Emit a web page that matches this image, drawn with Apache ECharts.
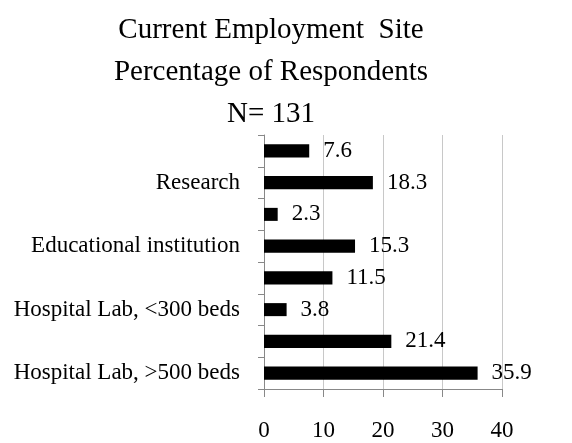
<!DOCTYPE html>
<html>
<head>
<meta charset="utf-8">
<script src="https://cdn.jsdelivr.net/npm/echarts@6/dist/echarts.min.js"></script>
<style>
  html, body { margin: 0; padding: 0; background: #fff; }
  #chart { width: 572px; height: 443px; }
</style>
</head>
<body>
<div id="chart"></div>
<script>
  // bottom to top, as drawn
  var categories = [
    'Hospital Lab, >500 beds',
    'Hospital Lab, 300-500 beds',
    'Hospital Lab, <300 beds',
    'Reference Lab',
    'Educational institution',
    'Industry',
    'Research',
    'Other'
  ];
  var percents = [35.9, 21.4, 3.8, 11.5, 15.3, 2.3, 18.3, 7.6];
  var xTicks = [0, 10, 20, 30, 40];

  var serif = '"Liberation Serif", "DejaVu Serif", serif';
  var chart = echarts.init(document.getElementById('chart'));
  chart.setOption({
    backgroundColor: '#fff',
    animation: false,
    title: {
      text: 'Current Employment  Site\nPercentage of Respondents\nN= 131',
      left: 266,
      top: 4,
      textAlign: 'center',
      textStyle: {
        fontFamily: serif,
        fontSize: 29,
        fontWeight: 'normal',
        color: '#000',
        lineHeight: 42
      }
    },
    grid: { left: 264, right: 70, top: 135, bottom: 54 },
    xAxis: {
      type: 'value',
      min: xTicks[0],
      max: xTicks[xTicks.length - 1],
      interval: 10,
      axisLine: { show: true, lineStyle: { color: '#888', width: 1 } },
      axisTick: { show: true, length: 8, lineStyle: { color: '#888' } },
      splitLine: { show: true, lineStyle: { color: '#c8c8c8', width: 1 } },
      axisLabel: {
        margin: 30,
        fontFamily: serif,
        fontSize: 23,
        color: '#000'
      }
    },
    yAxis: {
      type: 'category',
      data: categories,
      axisLine: { show: true, lineStyle: { color: '#888', width: 1 } },
      axisTick: { show: true, interval: 0, length: 6, lineStyle: { color: '#888' } },
      axisLabel: {
        interval: 1,
        margin: 24,
        fontFamily: serif,
        fontSize: 23,
        color: '#000'
      }
    },
    series: [{
      type: 'bar',
      data: percents,
      barWidth: '41%',
      itemStyle: { color: '#000' },
      label: {
        show: true,
        position: 'right',
        distance: 14,
        fontFamily: serif,
        fontSize: 23,
        color: '#000'
      }
    }]
  });
</script>
</body>
</html>
